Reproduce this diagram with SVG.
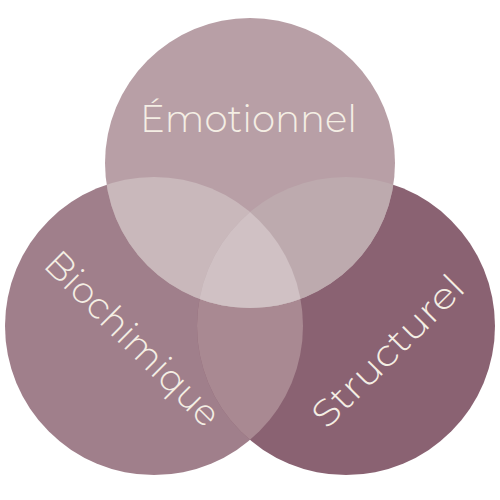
<svg xmlns="http://www.w3.org/2000/svg" width="500" height="500" viewBox="0 0 500 500">
  <style>
    .lbl { font-family: Montserrat, "Open Sans", Lato, "Noto Sans", sans-serif; font-weight: 300; font-size: 37px; fill: #f4eee4; }
  </style>
  <defs>
    <clipPath id="cL"><circle cx="154" cy="326" r="149"/></clipPath>
    <clipPath id="cR"><circle cx="346" cy="326" r="149"/></clipPath>
    <clipPath id="cT"><circle cx="250" cy="163" r="145"/></clipPath>
  </defs>
  <rect width="500" height="500" fill="#ffffff"/>
  <g id="biochimique">
    <circle cx="154" cy="326" r="149" fill="#a07f8b"/>
  </g>
  <g id="structurel">
    <circle cx="346" cy="326" r="149" fill="#8a6272"/>
  </g>
  <g id="emotionnel">
    <circle cx="250" cy="163" r="145" fill="#b89fa6"/>
  </g>
  <g id="overlaps">
    <circle cx="346" cy="326" r="149" fill="#a98992" clip-path="url(#cL)"/>
    <circle cx="250" cy="163" r="145" fill="#c9b8bb" clip-path="url(#cL)"/>
    <circle cx="250" cy="163" r="145" fill="#bdaaae" clip-path="url(#cR)"/>
    <g clip-path="url(#cL)">
      <circle cx="250" cy="163" r="145" fill="#d0c1c4" clip-path="url(#cR)"/>
    </g>
  </g>
  <g id="labels">
    <text class="lbl" x="140" y="132" textLength="217" lengthAdjust="spacingAndGlyphs">Émotionnel</text>
    <text class="lbl" transform="translate(42 266) rotate(45)" x="0" y="0" textLength="231" lengthAdjust="spacingAndGlyphs">Biochimique</text>
    <text class="lbl" transform="translate(327 430) rotate(-45)" x="0" y="0" textLength="198" lengthAdjust="spacingAndGlyphs">Structurel</text>
  </g>
</svg>
